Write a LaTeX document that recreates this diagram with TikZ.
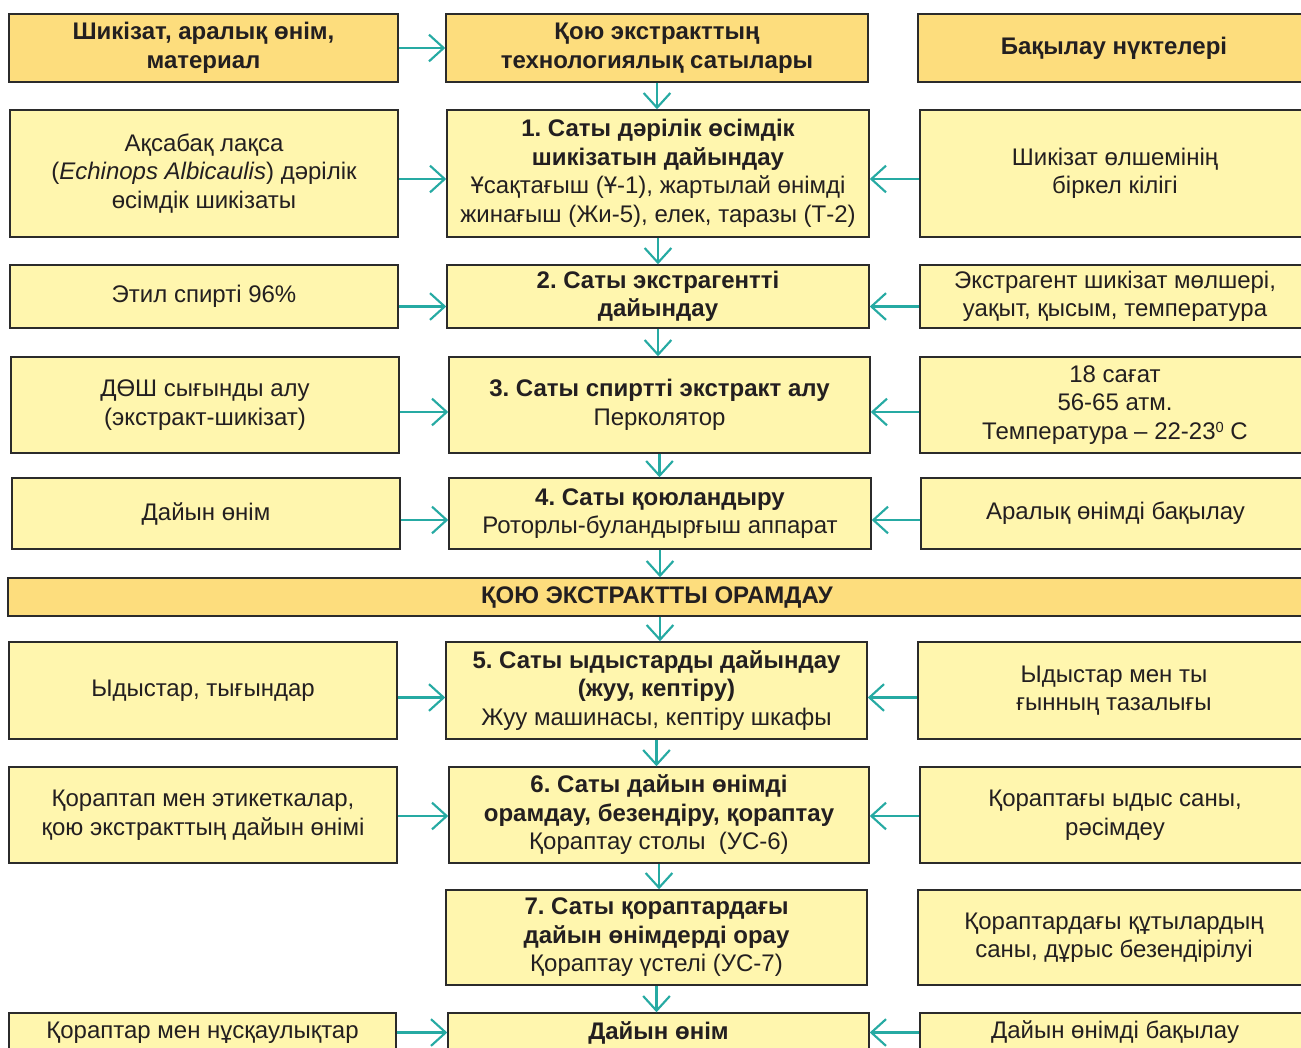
\documentclass[tikz,border=0pt]{standalone}
\usepackage{fontspec}
\setmainfont{Liberation Sans}
\frenchspacing
\usetikzlibrary{arrows.meta,calc}
\definecolor{boxc}{HTML}{FFF6AE}
\definecolor{headc}{HTML}{FDDD7D}
\definecolor{bordc}{HTML}{2B2B2B}
\definecolor{txtc}{HTML}{231F20}
\definecolor{tealc}{HTML}{26AAA3}
\tikzset{
  box/.style={draw=bordc, fill=boxc, line width=1.1pt, inner sep=0pt, align=center,
    font=\fontsize{18}{21.4}\selectfont, text=txtc},
  headbox/.style={box, fill=headc, font=\fontsize{18}{21.4}\selectfont\bfseries},
  arr/.style={draw=tealc, line width=1.6pt, -{Straight Barb[length=11pt,width=20pt,line width=1.6pt]}},
}
\newcommand\bx[7]{%
  \pgfmathsetmacro\bxcx{(#3+#5)/2}%
  \pgfmathsetmacro\bxcy{(#4+#6)/2}%
  \pgfmathsetmacro\bxw{(#5-#3)*0.75}%
  \pgfmathsetmacro\bxh{(#6-#4)*0.75}%
  \node[#1, minimum width=\bxw pt, minimum height=\bxh pt] (#2) at (\bxcx,\bxcy) {#7};}
\newcommand\degsup{\raisebox{0.55ex}{\fontsize{11}{11}\selectfont 0}}
\begin{document}
\begin{tikzpicture}[x=0.75pt,y=-0.75pt]
\useasboundingbox (0,0) rectangle (1301,1047);
\clip (0,0) rectangle (1301,1047);
\fill[white] (0,0) rectangle (1301,1047);

% Row 0 (header)
\bx{headbox}{L0}{9}{14}{398}{82}{Шикізат, аралық өнім,\\материал}
\bx{headbox}{M0}{446}{14}{868}{82}{Қою экстракттың\\технологиялық сатылары}
\bx{headbox}{R0}{918}{14}{1310}{82}{Бақылау нүктелері}

% Row 1
\bx{box}{L1}{10}{110}{398}{237}{Ақсабақ лақса\\(\textit{Echinops Albicaulis}) дәрілік\\өсімдік шикізаты}
\bx{box}{M1}{447}{110}{869}{237}{\textbf{1. Саты дәрілік өсімдік}\\\textbf{шикізатын дайындау}\\Ұсақтағыш (Ұ-1), жартылай өнімді\\жинағыш (Жи-5), елек, таразы (Т-2)}
\bx{box}{R1}{920}{110}{1310}{237}{Шикізат өлшемінің\\біркел кілігі}

% Row 2
\bx{box}{L2}{10}{265}{398}{328}{Этил спирті 96\%}
\bx{box}{M2}{447}{265}{869}{328}{\textbf{2. Саты экстрагентті}\\\textbf{дайындау}}
\bx{box}{R2}{920}{265}{1310}{328}{Экстрагент шикізат мөлшері,\\уақыт, қысым, температура}

% Row 3
\bx{box}{L3}{11}{357}{399}{453}{ДӨШ сығынды алу\\(экстракт-шикізат)}
\bx{box}{M3}{449}{357}{870}{453}{\textbf{3. Саты спиртті экстракт алу}\\Перколятор}
\bx{box}{R3}{920}{357}{1310}{453}{18 сағат\\56-65 атм.\\Температура – 22-23\degsup{} С}

% Row 4
\bx{box}{L4}{12}{478}{400}{549}{Дайын өнім}
\bx{box}{M4}{449}{478}{871}{549}{\textbf{4. Саты қоюландыру}\\Роторлы-буландырғыш аппарат}
\bx{box}{R4}{921}{478}{1310}{549}{Аралық өнімді бақылау}

% Banner
\bx{headbox}{B}{8}{578}{1306}{616}{ҚОЮ ЭКСТРАКТТЫ ОРАМДАУ}

% Row 5
\bx{box}{L5}{9}{642}{397}{739}{Ыдыстар, тығындар}
\bx{box}{M5}{446}{642}{867}{739}{\textbf{5. Саты ыдыстарды дайындау}\\\textbf{(жуу, кептіру)}\\Жуу машинасы, кептіру шкафы}
\bx{box}{R5}{918}{642}{1310}{739}{Ыдыстар мен ты\\ғынның тазалығы}

% Row 6
\bx{box}{L6}{9}{767}{397}{863}{Қораптап мен этикеткалар,\\қою экстракттың дайын өнімі}
\bx{box}{M6}{449}{767}{869}{863}{\textbf{6. Саты дайын өнімді}\\\textbf{орамдау, безендіру, қораптау}\\Қораптау столы\ \ (УС-6)}
\bx{box}{R6}{920}{767}{1310}{863}{Қораптағы ыдыс саны,\\рәсімдеу}

% Row 7
\bx{box}{M7}{446}{890}{867}{985}{\textbf{7. Саты қораптардағы}\\\textbf{дайын өнімдерді орау}\\Қораптау үстелі (УС-7)}
\bx{box}{R7}{918}{890}{1310}{985}{Қораптардағы құтылардың\\саны, дұрыс безендірілуі}

% Row 8
\bx{box}{L8}{9}{1013}{396}{1052}{Қораптар мен нұсқаулықтар}
\bx{box}{M8}{448}{1013}{869}{1052}{\textbf{Дайын өнім}}
\bx{box}{R8}{920}{1013}{1310}{1052}{Дайын өнімді бақылау}

% Horizontal arrows
\draw[arr] (L0.east) -- (M0.west);
\foreach \r/\d in {1/5.5, 2/10, 3/7, 4/6.5, 5/7, 6/1, 8/0}{
  \draw[arr] ($(L\r.east)+(0,\d)$) -- ($(M\r.west)+(0,\d)$);
}
\foreach \r/\d in {1/5.5, 2/10, 3/7, 4/6.5, 5/7, 6/1, 8/0}{
  \draw[arr] ($(R\r.west)+(0,\d)$) -- ($(M\r.east)+(0,\d)$);
}

% Vertical arrows
\draw[arr] (M0.south) -- (M0.south |- M1.north);
\draw[arr] (M1.south) -- (M1.south |- M2.north);
\draw[arr] (M2.south) -- (M2.south |- M3.north);
\draw[arr] (M3.south) -- (M3.south |- M4.north);
\draw[arr] (M4.south) -- (M4.south |- B.north);
\draw[arr] (M4.south |- B.south) -- (M4.south |- M5.north);
\draw[arr] (M5.south) -- (M5.south |- M6.north);
\draw[arr] (M6.south) -- (M6.south |- M7.north);
\draw[arr] (M7.south) -- (M7.south |- M8.north);
\end{tikzpicture}
\end{document}
